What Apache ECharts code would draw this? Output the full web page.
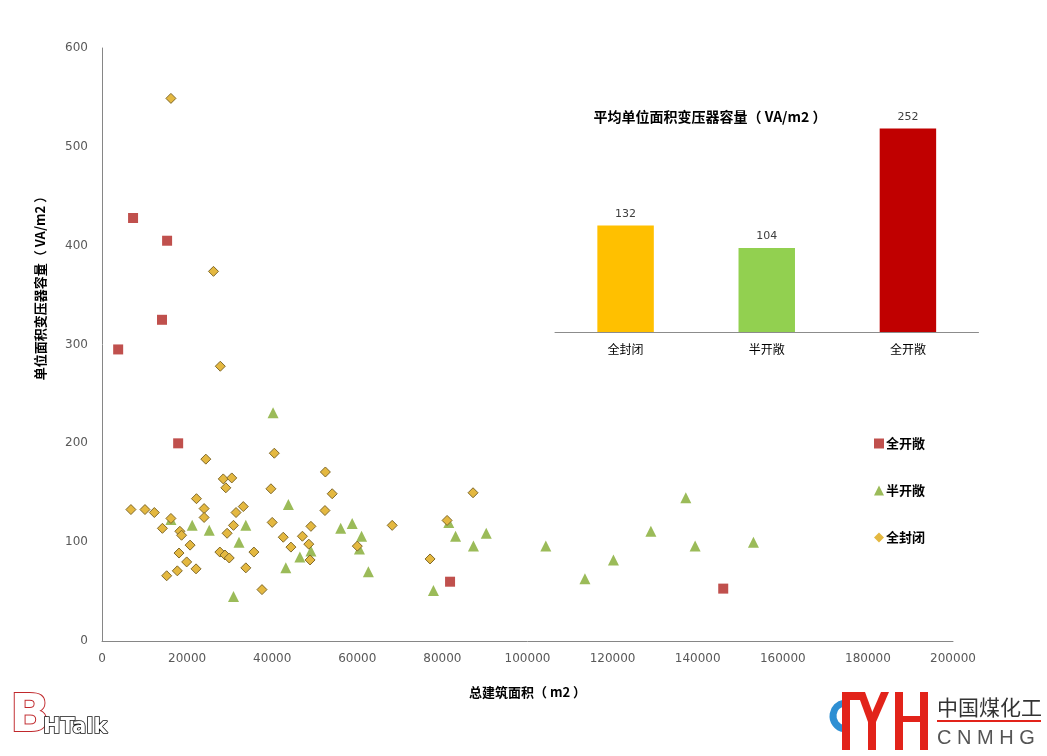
<!DOCTYPE html>
<html>
<head>
<meta charset="utf-8">
<script src="https://cdn.jsdelivr.net/npm/echarts@6/dist/echarts.min.js"></script>
<style>html,body{margin:0;padding:0;background:#fff;}#c{width:1047px;height:756px;}</style>
</head>
<body>
<div id="c"></div>
<script>
// ---- data ----
const seriesNames = ['全开敞', '半开敞', '全封闭'];
const fullOpen = [[3800,295],[7300,428],[15300,405],[14100,325],[17900,200],[81800,60],[146000,53]];
const halfOpen = [[40200,231],[16200,123],[21200,117],[25200,112],[33800,117],[32200,100],[30900,45],[43800,138],[43200,74],[46500,85],[49100,91],[56100,114],[58800,119],[61000,106],[62600,70],[60500,93],[77900,51],[81500,120],[83100,106],[87300,96],[90300,109],[104300,96],[113500,63],[120200,82],[129000,111],[137200,145],[139400,96],[153100,100]];
const fullClosed = [[16200,549],[26200,374],[27800,278],[40500,190],[24400,184],[52500,171],[28500,164],[30500,165],[29100,155],[39700,154],[54100,149],[22200,144],[6800,133],[10100,133],[12300,130],[24000,134],[33200,136],[31500,130],[52400,132],[24000,125],[16200,124],[14200,114],[30900,117],[40000,120],[49100,116],[18300,111],[18700,107],[29400,109],[42600,105],[47100,106],[48600,98],[20700,97],[44400,95],[18100,89],[27700,90],[28900,87],[29900,84],[35700,90],[48900,82],[19900,80],[17700,71],[22100,73],[15200,66],[33800,74],[37600,52],[60000,96],[68200,117],[77100,83],[81100,122],[87200,150]];
const barCategories = ['全封闭', '半开敞', '全开敞'];
const barValues = [132, 104, 252];
const barColors = ['#FFC000', '#92D050', '#C00000'];
const insetTitle = '平均单位面积变压器容量（ VA/m2 ）';
const xName = '总建筑面积（ m2 ）';
const yName = '单位面积变压器容量（ VA/m2 ）';

const chart = echarts.init(document.getElementById('c'), null, {renderer: 'canvas'});
const tickFont = {fontFamily: 'DejaVu Sans', fontSize: 12, color: '#595959'};
const cjk = '"Noto Sans CJK SC", sans-serif';
const red = '#E2231A';

chart.setOption({
  backgroundColor: '#ffffff',
  animation: false,
  textStyle: {fontFamily: cjk},
  grid: [
    {left: 102, top: 48, right: 94, bottom: 115, containLabel: false},
    {left: 555, right: 68.5, top: 106, bottom: 424, containLabel: false}
  ],
  xAxis: [
    {type: 'value', gridIndex: 0, min: 0, max: 200000, interval: 20000,
     name: xName, nameLocation: 'middle', nameGap: 45,
     nameTextStyle: {fontFamily: cjk, fontSize: 13, fontWeight: 'bold', color: '#000'},
     axisLine: {show: true, lineStyle: {color: '#868686', width: 1}},
     axisTick: {show: false}, splitLine: {show: false},
     axisLabel: Object.assign({margin: 12, formatter: v => String(v)}, tickFont)},
    {type: 'category', gridIndex: 1, data: barCategories,
     axisLine: {show: true, lineStyle: {color: '#8C8C8C', width: 1}},
     axisTick: {show: false},
     axisLabel: {fontFamily: cjk, fontSize: 12, color: '#000', margin: 11}}
  ],
  yAxis: [
    {type: 'value', gridIndex: 0, min: 0, max: 600, interval: 100,
     axisLine: {show: true, lineStyle: {color: '#868686', width: 1}},
     axisTick: {show: false}, splitLine: {show: false},
     axisLabel: Object.assign({margin: 14}, tickFont)},
    {type: 'value', gridIndex: 1, min: 0, max: 280, show: false, splitLine: {show: false}}
  ],
  legend: {
    orient: 'vertical', left: 869, top: 432,
    itemGap: 34, itemWidth: 10, itemHeight: 10,
    textStyle: {fontFamily: cjk, fontSize: 13, fontWeight: 'bold', color: '#000', padding: [0,0,0,-3]},
    data: [
      {name: seriesNames[0], icon: 'rect', itemStyle: {color: '#C0504D'}},
      {name: seriesNames[1], icon: 'triangle', itemStyle: {color: '#9BBB59'}},
      {name: seriesNames[2], icon: 'diamond', itemStyle: {color: '#E4B840', borderWidth: 0}}
    ]
  },
  series: [
    {name: seriesNames[0], type: 'scatter', xAxisIndex: 0, yAxisIndex: 0, data: fullOpen,
     symbol: 'rect', symbolSize: 10, itemStyle: {color: '#C0504D', opacity: 1}},
    {name: seriesNames[1], type: 'scatter', xAxisIndex: 0, yAxisIndex: 0, data: halfOpen,
     symbol: 'triangle', symbolSize: 11, itemStyle: {color: '#9BBB59', opacity: 1}},
    {name: seriesNames[2], type: 'scatter', xAxisIndex: 0, yAxisIndex: 0, data: fullClosed,
     symbol: 'diamond', symbolSize: 10, itemStyle: {color: '#E4B840', borderColor: '#80692A', borderWidth: 1, opacity: 1}},
    {type: 'bar', xAxisIndex: 1, yAxisIndex: 1, barWidth: '40%',
     data: barValues.map((v, i) => ({value: v, itemStyle: {color: barColors[i]}})),
     label: {show: true, position: 'top', distance: 6, fontFamily: 'DejaVu Sans', fontSize: 11, color: '#404040'}}
  ],
  graphic: [
    {type: 'text', x: 710, y: 117, style: {text: insetTitle, align: 'center', verticalAlign: 'middle',
      font: 'bold 14px "Noto Sans CJK SC"', fill: '#000'}},
    {type: 'text', x: 40, y: 285, rotation: Math.PI / 2, style: {text: yName, align: 'center', verticalAlign: 'middle',
      font: 'bold 13px "Noto Sans CJK SC"', fill: '#000'}},
    // bottom-left logo
    {type: 'text', x: 10, y: 717, style: {text: 'B', verticalAlign: 'middle', font: 'bold 52px "DejaVu Sans"',
      fill: '#fff', stroke: '#C0282C', lineWidth: 2}},
    {type: 'text', x: 43, y: 728, style: {text: 'HTalk', verticalAlign: 'middle', font: 'bold 21px "DejaVu Sans"',
      fill: '#fff', stroke: '#111', lineWidth: 1.6}},
    // bottom-right logo
    {type: 'arc', shape: {cx: 846, cy: 716, r: 13, startAngle: Math.PI * 0.55, endAngle: Math.PI * 1.45},
     style: {stroke: '#2E8FD3', lineWidth: 7, fill: null}},
    {type: 'rect', shape: {x: 842, y: 692, width: 8, height: 58}, style: {fill: red}},
    {type: 'rect', shape: {x: 842, y: 692, width: 23, height: 8}, style: {fill: red}},
    {type: 'polygon', shape: {points: [[857,692],[865,692],[876,722],[868,722]]}, style: {fill: red}},
    {type: 'polygon', shape: {points: [[881,692],[889,692],[876,722],[868,722]]}, style: {fill: red}},
    {type: 'rect', shape: {x: 868, y: 720, width: 8, height: 30}, style: {fill: red}},
    {type: 'rect', shape: {x: 895, y: 692, width: 8, height: 58}, style: {fill: red}},
    {type: 'rect', shape: {x: 920, y: 692, width: 8, height: 58}, style: {fill: red}},
    {type: 'rect', shape: {x: 895, y: 716, width: 33, height: 6}, style: {fill: red}},
    {type: 'text', x: 937, y: 707, style: {text: '中国煤化工', verticalAlign: 'middle', font: '21px "Noto Sans CJK SC"', fill: '#333'}},
    {type: 'rect', shape: {x: 937, y: 720, width: 104, height: 2}, style: {fill: red}},
    {type: 'text', x: 937, y: 738, style: {text: 'C N M H G', verticalAlign: 'middle', font: '20px "Liberation Sans"', fill: '#555'}}
  ]
});
</script>
</body>
</html>
